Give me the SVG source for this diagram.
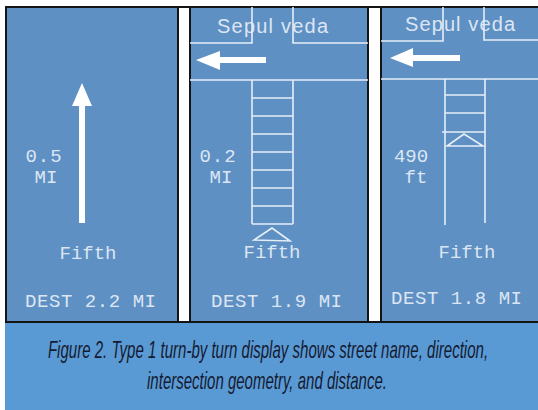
<svg xmlns="http://www.w3.org/2000/svg" width="538" height="410" viewBox="0 0 538 410">
<defs>
<style>
.panel{fill:#5F90C3;stroke:#141414;stroke-width:2}
.strip{fill:#ffffff;stroke:#141414;stroke-width:2}
.road{fill:none;stroke:#E6EEF8;stroke-width:1.6}
.arrow{fill:#ffffff}
.lcd{font-family:"Liberation Mono","DejaVu Sans Mono",monospace;fill:#DCE6F3;font-size:19px}
.street{font-family:"Liberation Sans","Open Sans",sans-serif;fill:#DCE6F3;font-size:20px}
.cap{font-family:"Liberation Sans",Arial,sans-serif;font-style:italic;fill:#151a33;font-size:23px}
</style>
</defs>
<rect x="0" y="0" width="538" height="410" fill="#ffffff"/>
<rect class="panel" x="6" y="7" width="534" height="315"/>
<rect x="5" y="323" width="533" height="87" fill="#5A9AD4"/>
<rect class="strip" x="178" y="7" width="12" height="315"/>
<rect class="strip" x="368" y="7" width="13" height="315"/>

<g id="panel1">
<polygon class="arrow" points="82,83 72,106 92,106"/>
<rect class="arrow" x="79" y="105" width="6" height="118"/>
<text class="lcd" x="44" y="162" text-anchor="middle" letter-spacing="1">0.5</text>
<text class="lcd" x="46" y="183" text-anchor="middle">MI</text>
<text class="lcd" x="88" y="259" text-anchor="middle" font-size="20">Fifth</text>
<text class="lcd" x="25" y="307" font-size="20" textLength="131">DEST 2.2 MI</text>
</g>

<g id="panel2">
<text class="street" x="217" y="33" textLength="111" lengthAdjust="spacing">Sepul veda</text>
<g class="road">
<polyline points="190,43 252,43 252,7"/>
<polyline points="293,7 293,43 368,43"/>
<line x1="190" y1="80" x2="368" y2="80"/>
<line x1="252" y1="80" x2="252" y2="224"/>
<line x1="293" y1="80" x2="293" y2="224"/>
<path d="M252 98H293M252 116H293M252 134H293M252 152H293M252 170H293M252 188H293M252 206H293M252 224H293"/>
<polygon points="272,228 254,240 290,241"/>
</g>
<polygon class="arrow" points="196,60 220,51 220,70"/>
<rect class="arrow" x="219" y="57" width="47" height="6"/>
<text class="lcd" x="218" y="162" text-anchor="middle" letter-spacing="1">0.2</text>
<text class="lcd" x="221" y="183" text-anchor="middle">MI</text>
<text class="lcd" x="272" y="258" text-anchor="middle" font-size="20">Fifth</text>
<text class="lcd" x="211" y="307" font-size="20" textLength="131">DEST 1.9 MI</text>
</g>

<g id="panel3">
<text class="street" x="405" y="31" textLength="110" lengthAdjust="spacing">Sepul veda</text>
<g class="road">
<polyline points="381,41 443,41 443,7"/>
<polyline points="484,7 484,40 538,40"/>
<line x1="381" y1="79" x2="538" y2="79"/>
<line x1="445" y1="79" x2="445" y2="225"/>
<line x1="485" y1="79" x2="485" y2="223"/>
<path d="M445 95H485M445 113H485M442 132H485"/>
<polygon points="464,134 447,146 483,146"/>
</g>
<polygon class="arrow" points="390,58 413,48 413,67"/>
<rect class="arrow" x="412" y="55" width="48" height="6"/>
<text class="lcd" x="411" y="162" text-anchor="middle">490</text>
<text class="lcd" x="416" y="183" text-anchor="middle">ft</text>
<text class="lcd" x="467" y="258" text-anchor="middle" font-size="20">Fifth</text>
<text class="lcd" x="391" y="304" font-size="20" textLength="131">DEST 1.8 MI</text>
</g>

<g id="caption">
<text class="cap" transform="translate(268,358) scale(0.62,1)" x="0" y="0" text-anchor="middle" textLength="710" lengthAdjust="spacingAndGlyphs">Figure 2. Type 1 turn-by turn display shows street name, direction,</text>
<text class="cap" transform="translate(267,389) scale(0.62,1)" x="0" y="0" text-anchor="middle" textLength="387" lengthAdjust="spacingAndGlyphs">intersection geometry, and distance.</text>
</g>
</svg>
